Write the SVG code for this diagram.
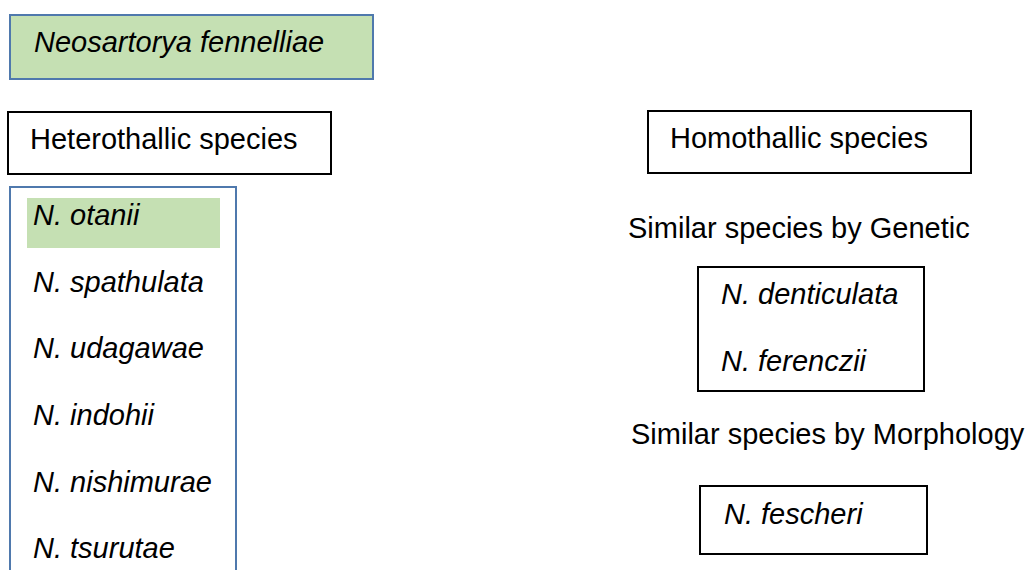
<svg xmlns="http://www.w3.org/2000/svg" width="1030" height="570" viewBox="0 0 1030 570">
<style>
text{font-family:"Liberation Sans",Arial,sans-serif;font-size:29px;fill:#000}
.it{font-style:italic}
.bk{fill:#fff;stroke:#000;stroke-width:2}
.bl{fill:none;stroke:#4f79ad;stroke-width:2}
</style>
<rect width="1030" height="570" fill="#fff"/>
<g id="genus">
<rect x="10" y="15" width="363" height="64" fill="#c5e0b3" stroke="#4f79ad" stroke-width="2"/>
<text class="it" x="34" y="52">Neosartorya fennelliae</text>
</g>
<g id="heterothallic">
<rect class="bk" x="8" y="112" width="323" height="62"/>
<text x="30" y="149">Heterothallic species</text>
</g>
<g id="hetero-list">
<rect class="bl" x="10" y="187" width="226" height="390"/>
<rect x="27" y="198" width="193" height="50" fill="#c5e0b3"/>
<text class="it" x="33" y="225">N. otanii</text>
<text class="it" x="33" y="292">N. spathulata</text>
<text class="it" x="33" y="358">N. udagawae</text>
<text class="it" x="33" y="425">N. indohii</text>
<text class="it" x="33" y="492">N. nishimurae</text>
<text class="it" x="33" y="558">N. tsurutae</text>
</g>
<g id="homothallic">
<rect class="bk" x="648" y="111" width="323" height="62"/>
<text x="670" y="148">Homothallic species</text>
</g>
<g id="genetic-label">
<text x="628" y="238">Similar species by Genetic</text>
</g>
<g id="genetic-box">
<rect class="bk" x="698" y="267" width="226" height="124"/>
<text class="it" x="721" y="304">N. denticulata</text>
<text class="it" x="721" y="371">N. ferenczii</text>
</g>
<g id="morph-label">
<text x="631" y="444">Similar species by Morphology</text>
</g>
<g id="morph-box">
<rect class="bk" x="700" y="486" width="227" height="68"/>
<text class="it" x="724" y="524">N. fescheri</text>
</g>
<g id="connectors"></g>
</svg>
